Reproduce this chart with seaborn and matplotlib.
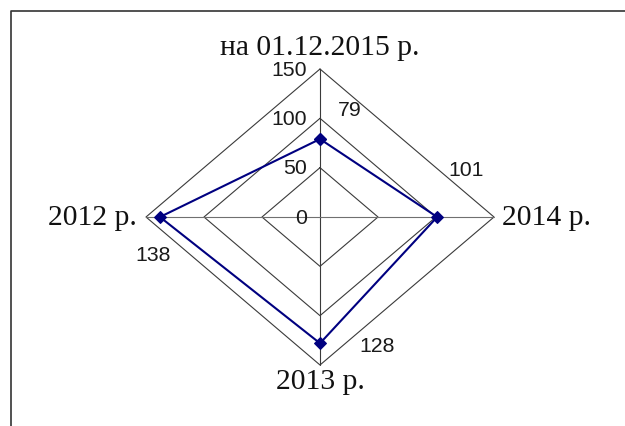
import numpy as np
import matplotlib
matplotlib.use("Agg")
import matplotlib.pyplot as plt
import seaborn as sns
from matplotlib.lines import Line2D

categories = ["на 01.12.2015 р.", "2014 р.", "2013 р.", "2012 р."]
values = [79, 101, 128, 138]
value_labels = ["79", "101", "128", "138"]
grid_levels = [0, 50, 100, 150]
tick_labels = ["0", "50", "100", "150"]

sns.set_theme(style="white")
plt.rcParams["font.family"] = ["Liberation Sans", "DejaVu Sans"]

W, H, DPI = 625, 427, 100
fig = plt.figure(figsize=(W / DPI, H / DPI), dpi=DPI)
ax = fig.add_axes([0, 0, 1, 1])
ax.set_axis_off()

# pixel geometry of the radar
cx, cy = 320, 427 - 218
rx, ry = 174, 148
vmax = grid_levels[-1]
ax.set_xlim(-cx / rx * vmax, (W - cx) / rx * vmax)
ax.set_ylim(-cy / ry * vmax, (H - cy) / ry * vmax)

n = len(categories)
ang = np.deg2rad(np.arange(n) * 360.0 / n)
sx, sy = np.sin(ang), np.cos(ang)

grid_col = "#3a3a3a"
# polygon grid
for lv in grid_levels[1:]:
    gx = np.append(lv * sx, lv * sx[0])
    gy = np.append(lv * sy, lv * sy[0])
    ax.plot(gx, gy, color=grid_col, lw=0.8, zorder=1)
# spokes
for i in range(n):
    col = grid_col if i % 2 == 0 else "#707070"
    ax.plot([0, vmax * sx[i]], [0, vmax * sy[i]], color=col, lw=0.8, zorder=1)

# tick labels on the vertical axis
for lv, tl in zip(grid_levels, tick_labels):
    ax.annotate(tl, (0, lv), xytext=(-13 * 0.72, 0), textcoords="offset points",
                ha="right", va="center", fontsize=15.3, color="#1a1a1a")

# series
px = np.append(np.array(values) * sx, values[0] * sx[0])
py = np.append(np.array(values) * sy, values[0] * sy[0])
sns.lineplot(x=px, y=py, sort=False, ax=ax, color="#000080", lw=1.5,
             marker="D", markersize=6.5, markeredgecolor="#000080",
             markerfacecolor="#000080", zorder=3, estimator=None)

# data labels (offsets in pixels)
offs = [(30, 30), (29, 48), (57, -2), (-7, -37)]
for v, lab, s, c, (dx, dy) in zip(values, value_labels, sx, sy, offs):
    ax.annotate(lab, (v * s, v * c), xytext=(dx * 0.72, dy * 0.72),
                textcoords="offset points", ha="center", va="center",
                fontsize=15.3, color="#1a1a1a")

# category labels
cat_off = [((0, 9), "center", "bottom"), ((8, 0), "left", "center"),
           ((0, -3), "center", "top"), ((-9, 0), "right", "center")]
for lab, s, c, ((dx, dy), ha, va) in zip(categories, sx, sy, cat_off):
    ax.annotate(lab, (vmax * s, vmax * c), xytext=(dx * 0.72, dy * 0.72),
                textcoords="offset points", ha=ha, va=va, fontsize=21.3,
                family=["Liberation Serif", "DejaVu Serif"], color="#111111")

# partial chart frame (left and top edges)
fx0 = 11 / W
fy0 = 1 - 12 / H
fig.add_artist(Line2D([fx0, fx0, 1], [0, fy0, fy0], transform=fig.transFigure,
                      color="#333333", lw=1.2))

fig.savefig("out.png", dpi=DPI)
